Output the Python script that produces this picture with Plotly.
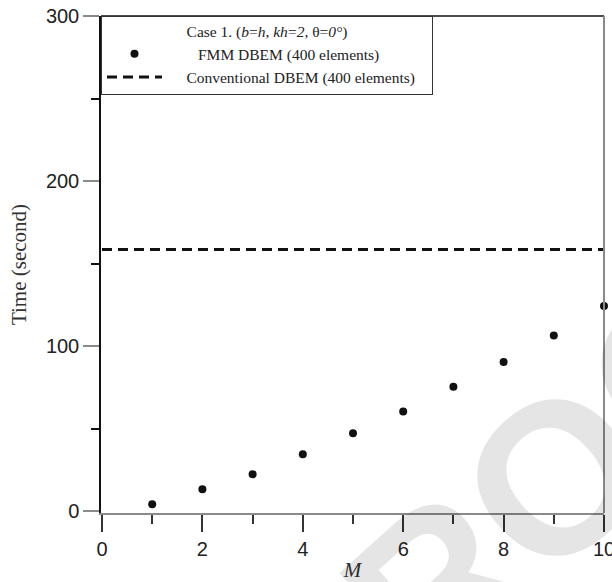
import plotly.graph_objects as go

# Computation time versus expansion order M (Case 1: b=h, kh=2, theta=0)
m_values = [1, 2, 3, 4, 5, 6, 7, 8, 9, 10]
fmm_time = [4.1, 13.2, 22.3, 34.4, 47.2, 60.3, 75.3, 90.3, 106.4, 124.3]

# Conventional DBEM time is independent of M
conv_x = [0, 10]
conv_time = [158.5, 158.5]

x_ticks = [0, 2, 4, 6, 8, 10]
y_ticks = [0, 100, 200, 300]

serif = "Liberation Serif, Times New Roman, serif"
sans = "Liberation Sans, Arial, sans-serif"
NB = "\u00a0"

fig = go.Figure()

fig.add_trace(go.Scatter(
    x=m_values, y=fmm_time, mode="markers",
    name=NB * 8 + "FMM DBEM (400 elements)",
    marker=dict(color="#111111", size=8, line=dict(width=0)),
    cliponaxis=False,
))
fig.add_trace(go.Scatter(
    x=conv_x, y=conv_time, mode="lines",
    name=NB * 5 + "Conventional DBEM (400 elements)" + NB * 3,
    line=dict(color="#111111", width=3, dash="10px,6px"),
))

fig.update_xaxes(
    range=[-0.02, 10], tickvals=x_ticks, ticktext=[str(v) for v in x_ticks],
    showgrid=False, zeroline=False, automargin=False,
    showline=True, linecolor="#8a8a8a", linewidth=2,
    ticks="outside", ticklen=17, tickwidth=1.5, tickcolor="#333333",
    minor=dict(ticks="outside", ticklen=9, tickwidth=1.5, tickcolor="#333333", dtick=1),
    tickfont=dict(family=sans, size=20, color="#222222"),
    ticklabeloverflow="allow",
    title=dict(text="<i>M</i>", font=dict(family=serif, size=21, color="#333333"), standoff=4),
)
fig.update_yaxes(
    range=[-1.2, 300], tickvals=y_ticks, ticktext=[str(v) for v in y_ticks],
    showgrid=False, zeroline=False, automargin=False,
    showline=True, linecolor="#111111", linewidth=1.5,
    ticks="outside", ticklen=16, tickwidth=2, tickcolor="#8a8a8a",
    minor=dict(ticks="outside", ticklen=8, tickwidth=1.5, tickcolor="#111111", dtick=50),
    tickfont=dict(family=sans, size=20, color="#222222"),
    ticklabeloverflow="allow",
    title=dict(text="Time (second)", font=dict(family=serif, size=21, color="#333333"), standoff=14),
)

# frame: black top edge, grey right edge
fig.add_shape(type="line", xref="paper", yref="paper", x0=0, x1=1, y0=1, y1=1,
              line=dict(color="#111111", width=1.5))
fig.add_shape(type="line", xref="paper", yref="paper", x0=1, x1=1, y0=0, y1=1,
              line=dict(color="#8a8a8a", width=2))

# faint diagonal watermark (translucent so the axes show through it)
fig.add_annotation(
    text="PROOF", xref="paper", yref="paper", x=(555 - 101) / 503, y=(513 - 477) / 497,
    xanchor="center", yanchor="middle", showarrow=False, textangle=-42,
    font=dict(family=sans, size=215, color="rgba(0,0,0,0.10)", weight="bold"),
)

fig.update_layout(
    width=612, height=582,
    margin=dict(l=101, r=8, t=16, b=69, autoexpand=False),
    plot_bgcolor="white", paper_bgcolor="white",
    showlegend=True,
    legend=dict(
        x=0, y=1, xanchor="left", yanchor="top",
        bgcolor="white", bordercolor="#333333", borderwidth=1,
        font=dict(family=serif, size=15.5, color="#222222"),
        itemwidth=55,
        title=dict(
            text="Case 1. (<i>b</i>=<i>h</i>, <i>kh</i>=<i>2</i>, θ=<i>0°</i>)",
            side="top center",
            font=dict(family=serif, size=15.5, color="#222222"),
        ),
    ),
)

fig.write_html("out.html")
